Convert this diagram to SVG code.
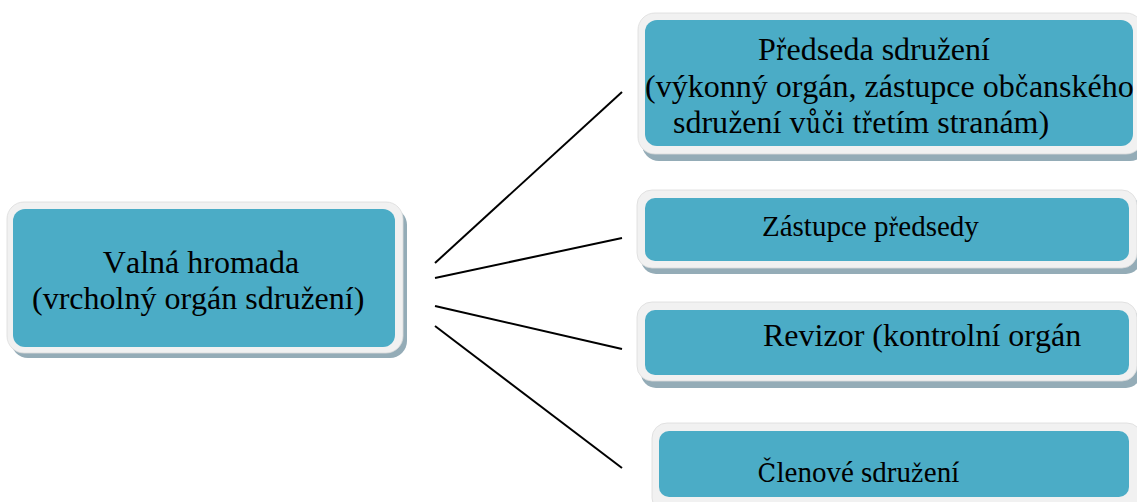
<svg xmlns="http://www.w3.org/2000/svg" width="1137" height="502" viewBox="0 0 1137 502">
<style>
.shadow{fill:#94acb7}
.rim{fill:#f1f1f1;stroke:#dcdcdc;stroke-width:0.8}
.box{fill:#4bacc6}
text{fill:#000;font-kerning:none}
.t{font-family:"Liberation Serif","Times New Roman",serif}
.x{font-family:"DejaVu Serif",serif;text-anchor:middle}
.l{stroke:#000;stroke-width:2;fill:none}
</style>
<rect width="1137" height="502" fill="#fff"/>
<g id="connectors">
<line class="l" x1="435" y1="263" x2="622" y2="92"/>
<line class="l" x1="435" y1="278" x2="622" y2="238"/>
<line class="l" x1="435" y1="306" x2="622" y2="349"/>
<line class="l" x1="435" y1="326" x2="622" y2="468"/>
</g>
<g id="valna-hromada">
<rect class="shadow" x="11" y="208" width="396" height="150" rx="17"/>
<rect class="rim" x="7" y="202" width="396" height="151" rx="17"/>
<rect class="box" x="13" y="209" width="382" height="138" rx="12"/>
<text class="t" font-size="32" text-anchor="middle" x="201" y="273">Valná hromada</text>
<text class="t" font-size="32" x="32" y="309">(vrcholný orgán sdru</text>
<text class="x" font-size="27.6" x="307.5" y="309" textLength="13.6" lengthAdjust="spacingAndGlyphs">ž</text>
<text class="t" font-size="32" x="314.6" y="309">ení)</text>
</g>
<g id="predseda">
<rect class="shadow" x="642" y="19" width="505" height="142" rx="17"/>
<rect class="rim" x="638" y="13" width="505" height="141" rx="17"/>
<rect class="box" x="645" y="20" width="488" height="126" rx="12"/>
<text class="t" font-size="32" x="758" y="60">P</text>
<text class="x" font-size="27.6" x="781.1" y="60" textLength="9.8" lengthAdjust="spacingAndGlyphs">ř</text>
<text class="t" font-size="32" x="786.6" y="60">edseda sdru</text>
<text class="x" font-size="27.6" x="943.7" y="60" textLength="13.6" lengthAdjust="spacingAndGlyphs">ž</text>
<text class="t" font-size="32" x="950.8" y="60">ení</text>
<text class="t" font-size="32" x="645" y="97">(výkonný orgán, zástupce ob</text>
<text class="x" font-size="27.6" x="1021.8" y="97" textLength="13.6" lengthAdjust="spacingAndGlyphs">č</text>
<text class="t" font-size="32" x="1028.9" y="97">anského</text>
<text class="t" font-size="32" x="673" y="133">sdru</text>
<text class="x" font-size="27.6" x="735.2" y="133" textLength="13.6" lengthAdjust="spacingAndGlyphs">ž</text>
<text class="t" font-size="32" x="742.3" y="133">ení v</text>
<text class="x" font-size="27.6" x="813.4" y="133" textLength="15" lengthAdjust="spacingAndGlyphs">ů</text>
<text class="x" font-size="27.6" x="828.5" y="133" textLength="13.6" lengthAdjust="spacingAndGlyphs">č</text>
<text class="t" font-size="32" x="835.6" y="133">i t</text>
<text class="x" font-size="27.6" x="866.9" y="133" textLength="9.6" lengthAdjust="spacingAndGlyphs">ř</text>
<text class="t" font-size="32" x="872.3" y="133">etím stranám)</text>
</g>
<g id="zastupce">
<rect class="shadow" x="641" y="196" width="500" height="78" rx="15"/>
<rect class="rim" x="637" y="190" width="500" height="78" rx="15"/>
<rect class="box" x="645" y="198" width="484" height="63" rx="10"/>
<text class="t" font-size="29" x="762" y="236">Zástupce p</text>
<text class="x" font-size="25" x="893.3" y="236" textLength="9" lengthAdjust="spacingAndGlyphs">ř</text>
<text class="t" font-size="29" x="898.3" y="236">edsedy</text>
</g>
<g id="revizor">
<rect class="shadow" x="641" y="309" width="500" height="79" rx="15"/>
<rect class="rim" x="637" y="302" width="500" height="79" rx="15"/>
<rect class="box" x="645" y="310" width="484" height="65" rx="10"/>
<text class="t" font-size="32" x="763" y="346">Revizor (kontrolní orgán</text>
</g>
<g id="clenove">
<rect class="shadow" x="656" y="429" width="490" height="90" rx="15"/>
<rect class="rim" x="652" y="423" width="490" height="90" rx="15"/>
<rect class="box" x="659" y="431" width="470" height="66" rx="10"/>
<text class="x" font-size="26.3" x="766.7" y="482" textLength="18.6" lengthAdjust="spacingAndGlyphs">Č</text>
<text class="t" font-size="29" x="776.5" y="482">lenové sdru</text>
<text class="x" font-size="25" x="917.2" y="482" textLength="12.2" lengthAdjust="spacingAndGlyphs">ž</text>
<text class="t" font-size="29" x="923.8" y="482">ení</text>
</g>
</svg>
